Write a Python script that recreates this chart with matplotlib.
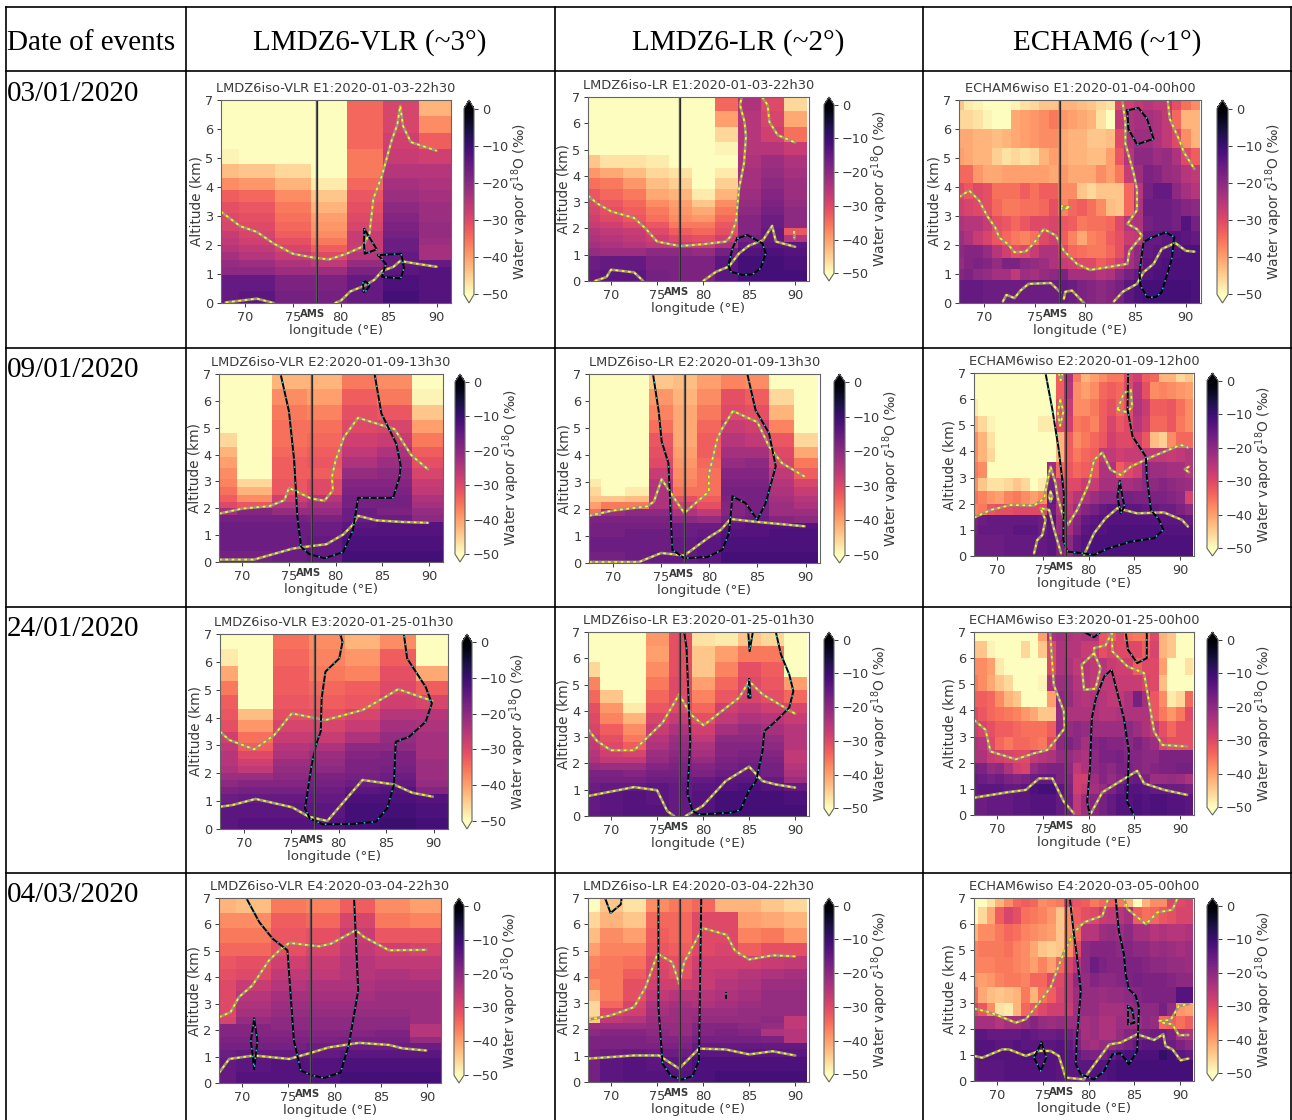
import numpy as np
import matplotlib
matplotlib.use("Agg")
import matplotlib.pyplot as plt

W, H = 1292, 1120

# longitudes of the cell centres for each model
LON_VLR = [67.5, 71.25, 75, 78.75, 82.5, 86.25, 90]
LON_LR = [67.5, 70, 72.5, 75, 77.5, 80, 82.5, 85, 87.5, 90]
LON_ECHAM = [67.5, 68.44, 69.38, 70.31, 71.25, 72.19, 73.13, 74.06, 75, 75.94, 76.88, 77.81, 78.75,
             79.69, 80.63, 81.56, 82.5, 83.44, 84.38, 85.31, 86.25, 87.19, 88.13, 89.06, 90, 90.94]
# altitude limits of the rows, top to bottom
ALT_LMDZ = [7.2, 6.45, 5.85, 5.3, 4.8, 4.3, 3.9, 3.5, 3.1, 2.8, 2.5, 2.25, 2.0, 1.75, 1.5, 1.25, 0.95, 0.4, 0]
ALT_ECHAM = [7.2, 6.65, 6.0, 5.35, 4.75, 4.15, 3.6, 3.0, 2.5, 2.0, 1.55, 1.17, 0.8, 0]

DATES = ["03/01/2020", "09/01/2020", "24/01/2020", "04/03/2020"]
HEADERS = ["Date of events", "LMDZ6-VLR (~3°)", "LMDZ6-LR (~2°)", "ECHAM6 (~1°)"]
TITLES = [
    ["LMDZ6iso-VLR E1:2020-01-03-22h30", "LMDZ6iso-LR E1:2020-01-03-22h30", "ECHAM6wiso E1:2020-01-04-00h00"],
    ["LMDZ6iso-VLR E2:2020-01-09-13h30", "LMDZ6iso-LR E2:2020-01-09-13h30", "ECHAM6wiso E2:2020-01-09-12h00"],
    ["LMDZ6iso-VLR E3:2020-01-25-01h30", "LMDZ6iso-LR E3:2020-01-25-01h30", "ECHAM6wiso E3:2020-01-25-00h00"],
    ["LMDZ6iso-VLR E4:2020-03-04-22h30", "LMDZ6iso-LR E4:2020-03-04-22h30", "ECHAM6wiso E4:2020-03-05-00h00"],
]

# delta18O values, rows from top to bottom
VLR_E1 = [
    [-52, -52, -52, -52, -34, -29, -42],
    [-52, -52, -52, -52, -34, -29, -38],
    [-52, -52, -52, -52, -34, -28, -33],
    [-49, -52, -52, -52, -36, -27, -28],
    [-43, -44, -46, -52, -36, -25, -25],
    [-38, -39, -42, -48, -34, -23, -24],
    [-33, -34, -38, -44, -32, -22, -23],
    [-31, -32, -36, -42, -31, -20, -22],
    [-30, -31, -35, -40, -30, -19, -22],
    [-29, -30, -34, -39, -29, -18, -21],
    [-27, -29, -33, -38, -27, -17, -21],
    [-26, -28, -31, -36, -27, -16, -22],
    [-25, -26, -29, -33, -27, -16, -23],
    [-23, -25, -27, -30, -25, -15, -23],
    [-21, -22, -24, -26, -21, -15, -15],
    [-20, -20, -22, -22, -18, -14, -13],
    [-15, -15, -18, -18, -15, -12, -13],
    [-15, -14, -17, -17, -15, -11, -13],
]
VLR_E2 = [
    [-52, -52, -42, -42, -36, -38, -52],
    [-52, -52, -38, -40, -33, -36, -49],
    [-52, -52, -36, -37, -31, -32, -44],
    [-50, -52, -35, -35, -30, -29, -40],
    [-46, -52, -35, -34, -28, -27, -36],
    [-42, -52, -34, -33, -26, -24, -33],
    [-40, -52, -33, -32, -24, -22, -31],
    [-38, -50, -33, -33, -21, -20, -29],
    [-37, -46, -32, -30, -19, -19, -27],
    [-35, -42, -32, -30, -18, -18, -26],
    [-33, -38, -28, -25, -17, -17, -24],
    [-30, -32, -25, -23, -17, -17, -23],
    [-23, -19, -21, -21, -16, -18, -21],
    [-17, -17, -17, -18, -16, -16, -20],
    [-16, -16, -16, -16, -14, -13, -13],
    [-16, -16, -16, -16, -13, -13, -13],
    [-16, -16, -16, -15, -12, -12, -12],
    [-17, -17, -16, -15, -11, -11, -11],
]
VLR_E3 = [
    [-51, -52, -35, -38, -42, -38, -51],
    [-48, -52, -34, -37, -39, -33, -51],
    [-41, -52, -33, -36, -37, -31, -41],
    [-36, -52, -33, -34, -33, -30, -33],
    [-33, -50, -32, -33, -32, -28, -29],
    [-32, -43, -31, -31, -29, -25, -25],
    [-31, -39, -29, -29, -27, -23, -24],
    [-28, -35, -27, -27, -24, -21, -23],
    [-26, -33, -25, -24, -20, -20, -23],
    [-25, -30, -24, -22, -19, -18, -23],
    [-25, -28, -22, -21, -18, -18, -22],
    [-24, -26, -21, -20, -18, -17, -22],
    [-22, -22, -20, -18, -17, -16, -22],
    [-20, -19, -19, -17, -16, -15, -21],
    [-18, -17, -17, -16, -14, -13, -19],
    [-16, -15, -15, -15, -12, -12, -13],
    [-14, -14, -14, -14, -11, -11, -12],
    [-14, -13, -13, -13, -11, -10, -11],
]
VLR_E4 = [
    [-42, -43, -36, -37, -33, -38, -40],
    [-38, -38, -33, -34, -29, -36, -37],
    [-36, -36, -32, -31, -27, -32, -32],
    [-34, -34, -31, -29, -26, -28, -29],
    [-32, -31, -28, -27, -25, -26, -26],
    [-31, -30, -26, -26, -25, -24, -25],
    [-30, -27, -25, -24, -24, -23, -23],
    [-30, -25, -23, -23, -23, -22, -22],
    [-30, -24, -22, -22, -22, -22, -22],
    [-30, -23, -21, -21, -21, -21, -22],
    [-29, -21, -20, -20, -20, -20, -22],
    [-19, -19, -20, -20, -20, -20, -25],
    [-19, -19, -19, -19, -19, -18, -25],
    [-18, -18, -18, -18, -17, -17, -21],
    [-17, -17, -17, -16, -16, -16, -16],
    [-16, -15, -15, -15, -14, -14, -14],
    [-15, -14, -13, -13, -12, -12, -12],
    [-15, -13, -13, -13, -11, -11, -11],
]
LR_E1 = [
    [-52, -52, -52, -52, -52, -52, -34, -24, -30, -46],
    [-52, -52, -52, -52, -52, -52, -40, -25, -29, -41],
    [-52, -52, -52, -52, -52, -52, -46, -25, -28, -35],
    [-52, -52, -52, -52, -52, -52, -49, -25, -25, -27],
    [-44, -47, -47, -48, -52, -52, -50, -24, -22, -24],
    [-39, -41, -43, -46, -47, -51, -48, -23, -21, -23],
    [-35, -36, -39, -43, -45, -50, -45, -23, -20, -22],
    [-32, -34, -36, -41, -42, -48, -42, -22, -19, -22],
    [-30, -32, -34, -38, -40, -44, -38, -21, -18, -21],
    [-29, -31, -33, -36, -39, -41, -36, -20, -17, -20],
    [-28, -30, -32, -35, -38, -39, -34, -19, -16, -20],
    [-27, -28, -30, -32, -36, -36, -32, -19, -16, -20],
    [-25, -26, -27, -30, -33, -34, -31, -19, -15, -32],
    [-24, -25, -26, -28, -30, -31, -28, -17, -15, -25],
    [-23, -24, -25, -26, -27, -28, -24, -15, -14, -14],
    [-21, -22, -22, -20, -20, -21, -17, -13, -12, -13],
    [-16, -15, -15, -18, -18, -18, -14, -11, -11, -12],
    [-15, -14, -14, -17, -18, -18, -14, -11, -11, -11],
]
LR_E2 = [
    [-52, -52, -52, -44, -43, -40, -37, -38, -52, -52],
    [-52, -52, -52, -39, -42, -38, -31, -33, -46, -52],
    [-52, -52, -52, -37, -41, -36, -30, -31, -42, -52],
    [-52, -52, -52, -35, -41, -34, -27, -28, -37, -52],
    [-52, -52, -52, -32, -41, -33, -25, -26, -32, -46],
    [-52, -52, -52, -31, -40, -33, -23, -23, -30, -41],
    [-52, -52, -52, -30, -39, -34, -21, -20, -29, -36],
    [-50, -52, -52, -27, -38, -35, -19, -19, -26, -33],
    [-48, -52, -52, -25, -37, -35, -18, -18, -25, -29],
    [-46, -50, -48, -24, -35, -35, -17, -17, -24, -27],
    [-44, -44, -43, -24, -31, -33, -18, -17, -23, -25],
    [-40, -36, -36, -24, -28, -31, -19, -17, -22, -24],
    [-35, -22, -20, -20, -24, -26, -19, -17, -22, -22],
    [-18, -18, -18, -18, -20, -21, -17, -16, -19, -20],
    [-17, -17, -17, -17, -16, -16, -14, -13, -13, -13],
    [-17, -17, -16, -16, -16, -15, -13, -13, -12, -12],
    [-16, -16, -16, -16, -15, -14, -12, -12, -12, -12],
    [-17, -17, -16, -15, -15, -14, -11, -11, -11, -11],
]
LR_E3 = [
    [-52, -52, -52, -39, -31, -47, -48, -44, -46, -52],
    [-52, -52, -52, -40, -31, -44, -40, -36, -36, -52],
    [-46, -52, -52, -38, -31, -44, -37, -31, -33, -50],
    [-37, -50, -52, -36, -30, -40, -34, -30, -32, -40],
    [-34, -44, -52, -34, -30, -37, -32, -29, -31, -34],
    [-31, -39, -48, -32, -30, -34, -28, -26, -28, -29],
    [-30, -37, -42, -29, -27, -31, -26, -24, -25, -27],
    [-29, -33, -38, -27, -24, -28, -23, -21, -23, -25],
    [-27, -31, -36, -25, -22, -26, -20, -20, -21, -25],
    [-26, -30, -33, -24, -21, -24, -19, -19, -20, -25],
    [-25, -28, -29, -22, -20, -23, -19, -18, -19, -26],
    [-24, -26, -26, -21, -19, -21, -18, -17, -18, -26],
    [-21, -22, -22, -19, -18, -19, -17, -16, -17, -25],
    [-18, -18, -19, -17, -17, -18, -16, -15, -17, -24],
    [-17, -17, -17, -16, -16, -15, -14, -14, -15, -22],
    [-16, -15, -15, -14, -15, -14, -13, -12, -13, -15],
    [-15, -14, -13, -14, -15, -13, -11, -11, -11, -12],
    [-15, -14, -13, -13, -15, -13, -11, -11, -11, -11],
]
LR_E4 = [
    [-51, -44, -47, -38, -36, -34, -42, -42, -44, -46],
    [-46, -42, -44, -34, -34, -30, -30, -40, -41, -42],
    [-43, -38, -40, -33, -34, -30, -30, -37, -36, -39],
    [-40, -37, -37, -32, -33, -30, -29, -33, -31, -31],
    [-37, -36, -35, -30, -31, -28, -28, -28, -27, -26],
    [-36, -36, -33, -29, -31, -27, -26, -25, -24, -23],
    [-38, -36, -31, -28, -28, -27, -25, -24, -22, -22],
    [-42, -36, -31, -26, -25, -25, -24, -23, -21, -21],
    [-46, -34, -29, -24, -23, -24, -23, -22, -21, -21],
    [-46, -30, -28, -23, -22, -22, -22, -21, -21, -21],
    [-44, -26, -25, -22, -22, -21, -21, -21, -20, -26],
    [-22, -22, -22, -21, -21, -19, -19, -20, -21, -26],
    [-20, -19, -19, -20, -21, -19, -18, -19, -24, -25],
    [-18, -18, -18, -19, -19, -17, -17, -17, -18, -25],
    [-18, -18, -18, -18, -18, -15, -15, -15, -15, -15],
    [-17, -16, -15, -16, -16, -14, -14, -14, -14, -14],
    [-17, -14, -13, -14, -14, -12, -12, -12, -12, -12],
    [-17, -14, -13, -13, -13, -12, -11, -11, -11, -11],
]
ECHAM_E1 = [
    [-44, -48, -49, -50, -51, -50, -49, -47, -46, -44, -44, -42, -42, -43, -44, -46, -47, -30, -28, -26, -25, -26, -26, -31, -35, -38],
    [-46, -46, -47, -49, -50, -50, -41, -40, -39, -38, -36, -39, -40, -41, -42, -47, -50, -26, -24, -23, -23, -24, -26, -34, -42, -42],
    [-41, -41, -42, -42, -43, -42, -41, -40, -39, -38, -38, -41, -42, -42, -44, -44, -43, -30, -24, -22, -22, -24, -26, -30, -38, -42],
    [-40, -41, -42, -42, -45, -47, -46, -47, -46, -42, -40, -41, -42, -42, -43, -43, -40, -32, -25, -20, -20, -22, -21, -24, -30, -33],
    [-34, -34, -39, -41, -41, -40, -40, -40, -40, -40, -41, -39, -41, -41, -41, -38, -40, -36, -27, -22, -18, -19, -21, -22, -25, -26],
    [-30, -32, -30, -31, -35, -35, -35, -33, -35, -33, -33, -38, -38, -44, -46, -44, -44, -44, -34, -25, -17, -15, -15, -20, -23, -25],
    [-28, -29, -30, -31, -34, -36, -36, -35, -35, -34, -31, -37, -34, -33, -35, -38, -43, -44, -34, -24, -16, -16, -16, -17, -19, -20],
    [-24, -25, -25, -27, -31, -32, -34, -32, -30, -30, -29, -32, -33, -36, -35, -35, -34, -30, -25, -24, -17, -16, -16, -17, -13, -17],
    [-22, -24, -27, -29, -32, -34, -36, -37, -35, -30, -28, -33, -37, -41, -37, -36, -33, -31, -27, -26, -15, -15, -14, -13, -14, -15],
    [-20, -19, -19, -21, -25, -28, -31, -30, -27, -24, -24, -30, -34, -35, -36, -36, -34, -31, -24, -20, -15, -14, -13, -13, -12, -12],
    [-21, -19, -18, -19, -21, -18, -18, -20, -21, -22, -24, -27, -28, -30, -30, -33, -31, -28, -23, -20, -14, -13, -12, -12, -12, -12],
    [-19, -18, -20, -21, -23, -23, -26, -22, -23, -21, -20, -18, -23, -23, -23, -25, -24, -20, -17, -15, -13, -12, -12, -12, -12, -12],
    [-15, -15, -15, -16, -16, -16, -16, -16, -16, -16, -16, -15, -16, -18, -19, -20, -19, -17, -14, -12, -11, -11, -11, -11, -11, -12],
]
ECHAM_E2 = [
    [-52, -52, -52, -52, -52, -52, -52, -52, -52, -52, -33, -24, -36, -42, -40, -38, -36, -36, -30, -28, -33, -34, -42, -42, -46, -44],
    [-52, -52, -52, -52, -52, -52, -52, -52, -52, -52, -33, -25, -38, -40, -38, -34, -33, -34, -30, -25, -31, -38, -37, -38, -39, -40],
    [-48, -50, -52, -52, -52, -52, -52, -52, -50, -52, -31, -27, -38, -38, -36, -33, -31, -34, -31, -24, -27, -33, -33, -32, -35, -38],
    [-42, -46, -49, -52, -52, -52, -52, -52, -48, -48, -30, -28, -36, -35, -37, -33, -29, -32, -30, -25, -28, -34, -34, -32, -36, -38],
    [-38, -42, -47, -52, -52, -52, -52, -52, -52, -50, -42, -33, -38, -36, -34, -32, -28, -30, -30, -28, -32, -43, -45, -38, -34, -34],
    [-38, -42, -46, -52, -52, -52, -52, -52, -52, -50, -42, -33, -36, -34, -33, -26, -26, -28, -27, -27, -26, -26, -26, -27, -26, -25],
    [-36, -38, -52, -52, -52, -52, -52, -52, -52, -22, -34, -32, -34, -33, -32, -24, -24, -33, -30, -28, -20, -22, -22, -23, -23, -25],
    [-38, -44, -47, -47, -46, -44, -46, -50, -48, -17, -25, -30, -30, -27, -27, -23, -23, -23, -23, -22, -20, -20, -19, -20, -21, -22],
    [-35, -37, -39, -40, -37, -36, -38, -40, -38, -15, -24, -28, -25, -24, -22, -20, -20, -19, -17, -18, -18, -18, -18, -19, -20, -29],
    [-37, -36, -32, -31, -31, -30, -30, -30, -30, -16, -24, -26, -22, -19, -17, -15, -14, -14, -14, -14, -15, -15, -16, -16, -18, -20],
    [-18, -16, -15, -15, -15, -15, -15, -15, -16, -13, -22, -24, -19, -15, -14, -13, -13, -13, -13, -13, -13, -13, -14, -14, -14, -15],
    [-17, -15, -15, -15, -15, -14, -14, -14, -16, -14, -21, -23, -18, -14, -13, -13, -12, -12, -12, -12, -12, -12, -13, -13, -13, -13],
    [-16, -16, -16, -16, -15, -15, -15, -15, -15, -14, -18, -20, -15, -13, -12, -12, -12, -12, -12, -12, -12, -12, -12, -12, -12, -12],
]
ECHAM_E3 = [
    [-50, -50, -52, -52, -52, -52, -50, -50, -40, -24, -23, -24, -25, -24, -24, -32, -33, -30, -35, -36, -36, -30, -42, -44, -51, -51],
    [-44, -44, -49, -50, -52, -52, -46, -52, -44, -30, -24, -25, -25, -27, -27, -31, -29, -30, -30, -30, -33, -29, -42, -44, -50, -51],
    [-38, -38, -40, -48, -52, -52, -52, -52, -50, -30, -24, -24, -26, -25, -26, -25, -27, -28, -28, -33, -30, -30, -40, -50, -50, -47],
    [-36, -38, -41, -44, -46, -50, -52, -52, -49, -24, -22, -22, -25, -25, -26, -26, -26, -27, -27, -27, -29, -30, -43, -50, -52, -52],
    [-33, -33, -34, -38, -42, -44, -52, -52, -52, -40, -20, -21, -24, -25, -24, -25, -26, -26, -24, -17, -23, -32, -38, -48, -46, -34],
    [-30, -32, -34, -35, -36, -37, -39, -41, -44, -44, -21, -24, -24, -24, -24, -25, -25, -24, -24, -24, -24, -32, -36, -39, -36, -30],
    [-28, -29, -31, -33, -33, -34, -35, -35, -35, -33, -20, -21, -20, -21, -22, -22, -22, -22, -20, -22, -24, -26, -31, -34, -31, -31],
    [-24, -25, -30, -34, -36, -34, -34, -35, -36, -30, -20, -18, -20, -23, -19, -18, -19, -19, -20, -18, -20, -22, -29, -31, -31, -31],
    [-24, -24, -27, -28, -29, -30, -30, -26, -25, -24, -21, -21, -23, -24, -20, -18, -18, -17, -19, -19, -20, -20, -18, -18, -18, -18],
    [-17, -18, -21, -20, -24, -28, -29, -21, -19, -18, -18, -20, -26, -24, -20, -19, -20, -18, -18, -19, -20, -19, -18, -18, -17, -17],
    [-15, -16, -17, -16, -18, -19, -18, -16, -15, -15, -18, -19, -28, -28, -22, -19, -21, -19, -16, -15, -18, -22, -22, -21, -22, -24],
    [-15, -14, -14, -14, -15, -15, -14, -12, -11, -11, -14, -18, -28, -26, -23, -21, -18, -15, -13, -13, -14, -15, -15, -16, -16, -17],
    [-16, -16, -15, -15, -15, -14, -14, -13, -13, -13, -15, -17, -26, -22, -19, -17, -15, -13, -13, -12, -13, -12, -12, -13, -13, -14],
]
ECHAM_E4 = [
    [-52, -50, -47, -42, -38, -34, -33, -34, -38, -37, -36, -30, -32, -33, -36, -34, -33, -36, -42, -50, -42, -38, -38, -30, -30, -29],
    [-50, -46, -41, -33, -29, -31, -35, -36, -37, -39, -44, -38, -33, -31, -30, -27, -26, -25, -23, -33, -35, -34, -32, -31, -29, -29],
    [-42, -38, -38, -36, -34, -35, -37, -38, -39, -40, -44, -38, -34, -25, -25, -22, -21, -22, -20, -23, -23, -25, -24, -25, -25, -24],
    [-37, -36, -36, -36, -35, -37, -38, -41, -44, -45, -44, -38, -30, -20, -19, -19, -19, -20, -19, -20, -20, -22, -21, -22, -23, -22],
    [-37, -37, -37, -36, -36, -37, -38, -40, -37, -40, -34, -29, -25, -20, -16, -18, -19, -19, -18, -18, -19, -20, -20, -21, -21, -22],
    [-39, -40, -39, -37, -36, -36, -37, -34, -34, -30, -30, -26, -20, -21, -19, -20, -20, -19, -18, -17, -18, -18, -18, -19, -20, -20],
    [-34, -41, -43, -44, -43, -42, -36, -42, -35, -33, -29, -26, -22, -21, -21, -22, -21, -21, -20, -19, -18, -18, -18, -18, -13, -13],
    [-29, -32, -38, -47, -48, -42, -34, -32, -30, -28, -28, -27, -22, -21, -21, -23, -23, -23, -22, -20, -20, -20, -17, -21, -39, -40],
    [-23, -23, -23, -25, -23, -23, -21, -19, -21, -22, -21, -22, -22, -23, -22, -24, -24, -22, -22, -22, -20, -21, -34, -33, -35, -33],
    [-14, -14, -15, -15, -15, -15, -14, -15, -16, -16, -15, -17, -19, -23, -22, -24, -24, -21, -19, -18, -17, -16, -16, -18, -23, -24],
    [-13, -13, -13, -14, -14, -13, -14, -14, -14, -14, -13, -15, -18, -22, -23, -21, -21, -19, -17, -15, -14, -14, -14, -16, -18, -20],
    [-13, -13, -13, -13, -13, -13, -12, -12, -12, -13, -13, -14, -15, -17, -18, -17, -15, -13, -12, -12, -12, -12, -9, -11, -14, -15],
    [-15, -14, -14, -14, -13, -13, -13, -13, -13, -13, -14, -14, -14, -14, -13, -13, -12, -11, -11, -11, -11, -11, -11, -11, -11, -11],
]

# contour traces (lon, alt): Y = yellow on grey, K = black with cyan
VLR_E1_Y = [
    [(68, 0.02), (70, 0.1), (71.25, 0.15), (73, 0)],
    [(67.5, 3.15), (68.5, 2.9), (69.5, 2.65), (71.25, 2.45), (73, 2.05), (75, 1.7), (76.9, 1.58), (78.75, 1.5), (80.6, 1.7),
     (82.3, 1.95), (83, 2.4), (83.4, 3.6), (84.3, 4.4), (85.3, 5.6), (85.9, 6.15), (86.2, 6.8), (86.5, 6.1), (87.3, 5.55), (90, 5.25)],
    [(79.4, 0), (80, 0.08), (81, 0.4), (82.5, 0.6), (83.5, 0.8), (84.3, 1.1), (85.5, 1.25), (86.2, 1.45), (88, 1.35), (90, 1.25)],
]
VLR_E1_K = [
    [(82.45, 2.55), (83.75, 1.85), (82.5, 1.7), (82.4, 2.1), (82.45, 2.55)],
    [(83.9, 1.65), (86.3, 1.7), (86.6, 1.2), (86.25, 0.85), (84.3, 0.9), (84.7, 1.35), (83.9, 1.65)],
    [(82.4, 0.4), (82.3, 0.7), (82.6, 0.75), (83, 0.6), (82.6, 0.4), (82.4, 0.4)],
]
LR_E1_Y = [
    [(68.25, 0), (69.5, 0.15), (70, 0.43), (72.5, 0.33), (73.5, 0)],
    [(67.5, 3.25), (68.5, 2.95), (70, 2.65), (72.5, 2.4), (73.75, 2), (75, 1.5), (77.5, 1.33), (80, 1.4), (82.45, 1.5), (83, 1.7),
     (83.55, 2.25), (83.9, 3.5), (84.45, 4.5), (84.65, 5.5), (84.5, 6.05), (84, 6.7), (84.2, 7)],
    [(86.4, 7), (87, 6.7), (87.2, 6.05), (88.1, 5.55), (90, 5.27)],
    [(80, 0), (81.4, 0.35), (82.8, 0.55), (83.9, 1.05), (85, 1.35), (86.5, 1.55), (87.5, 2.1), (87.9, 1.5), (90, 1.3)],
    [(89.9, 1.9), (89.9, 1.65)],
]
LR_E1_K = [
    [(83.7, 1.62), (84.8, 1.75), (86.45, 1.43), (86.8, 1.05), (86.25, 0.48), (85.35, 0.25), (84.3, 0.23), (83, 0.35), (82.75, 0.6),
     (83.2, 1.25), (83.7, 1.62)],
]
ECHAM_E1_Y = [
    [(67.5, 3.65), (68.5, 3.88), (69.5, 3.53), (70.3, 3), (71.1, 2.6), (71.5, 2.25), (72.3, 2.05), (73, 1.75), (74.1, 1.77), (74.9, 2.05),
     (75.9, 2.55), (77.1, 2.33), (77.9, 1.8), (79.2, 1.35), (80.5, 1.14), (82.5, 1.25), (84.2, 1.35), (84.4, 1.8), (85.65, 2.32),
     (85.15, 2.55), (84.2, 2.73), (85.15, 3.2), (85.15, 3.93), (84.8, 4.5), (84, 5.5), (84, 6.23), (83.7, 7)],
    [(88.2, 7), (88.4, 6.35), (89.3, 5.66), (89.8, 5.2), (90.85, 4.62)],
    [(77.55, 3.35), (78.55, 3.3), (77.7, 3.22), (77.55, 3.35)],
    [(71.85, 0.05), (72.2, 0.28), (73, 0.17), (73.6, 0.43), (74.4, 0.66), (76.6, 0.69), (77.55, 0.37)],
    [(77.9, 0.14), (78.05, 0.39), (78.7, 0.43), (79.9, 0)],
    [(82.85, 0.05), (83.75, 0.39), (85.15, 0.66), (85.8, 1.06), (86.8, 1.35), (87.6, 1.86), (88.95, 2.07), (90, 1.8), (90.85, 1.77)],
]
ECHAM_E1_K = [
    [(84.2, 6.64), (85.3, 6.73), (86.15, 6.35), (86.8, 5.66), (85.15, 5.47), (84.3, 6), (84.2, 6.64)],
    [(86.5, 2.24), (88, 2.44), (88.85, 2.27), (88.6, 1.52), (87.6, 0.37), (87, 0.2), (86.15, 0.2), (85.5, 0.6), (85.4, 1.06), (85.8, 2.1), (86.5, 2.24)],
]
VLR_E2_Y = [
    [(67.5, 1.8), (70, 1.99), (72.9, 2.08), (74.5, 2.3), (75, 2.76), (77.4, 2.36), (78.8, 2.28), (79.7, 2.67), (79.6, 3.17), (80, 3.8),
     (80.9, 4.66), (82.4, 5.37), (86.3, 4.95), (88.1, 3.98), (89.9, 3.45)],
    [(67.5, 0.09), (71.25, 0.09), (75.4, 0.5), (77.5, 0.6), (79, 0.66), (80.8, 1.02), (81.8, 1.37), (82.4, 1.72), (84.35, 1.55), (87.2, 1.49), (89.9, 1.46)],
]
VLR_E2_K = [
    [(74.1, 7), (75, 5.6), (75.55, 3.8), (75.9, 1.68), (76.3, 0.56), (77.2, 0.29), (78.8, 0.14), (80.8, 0.37), (81.85, 1.18), (82.4, 2.39),
     (86.15, 2.39), (86.85, 3.17), (86.96, 3.6), (86.5, 4.4), (84.9, 5.53), (84.17, 7)],
]
LR_E2_Y = [
    [(67.5, 1.75), (69.9, 1.94), (73.55, 2.1), (74.25, 2.28), (75.05, 3.1), (77.4, 1.85), (79.95, 2.65), (79.95, 3.27), (80.8, 4.56),
     (81.25, 4.93), (82.45, 5.63), (85, 5.22), (86.2, 4.32), (87.55, 3.7), (89.9, 3.2)],
    [(67.5, 0.04), (72.7, 0.04), (75, 0.37), (77.4, 0.28), (79.95, 0.95), (81.2, 1.23), (82.2, 1.63), (85, 1.52), (89.9, 1.36)],
]
LR_E2_K = [
    [(74.15, 7), (74.75, 5.6), (75.05, 4.5), (75.75, 3.7), (76, 1.73), (76.15, 0.49), (77.4, 0.18), (79.8, 0.22), (81.35, 0.49), (82.05, 1.11),
     (82.4, 2.47), (83.75, 2.22), (85, 1.6), (85.85, 2.22), (86.9, 3.58), (86.2, 4.81), (84.8, 5.67), (83.95, 7)],
]
ECHAM_E2_Y = [
    [(67.5, 1.47), (69.3, 1.76), (71.5, 1.95), (74.05, 1.93), (75.15, 2.2), (75.85, 3.42), (76.4, 2.78), (76.6, 2.27), (77.3, 1.44), (77.75, 1.19),
     (78.75, 1.76), (80.05, 2.78), (80.6, 3.68), (81.5, 3.96), (82.4, 3.3), (83.5, 3.1), (84.6, 3.42), (86.8, 3.78), (90.05, 4.25), (90.85, 4.15)],
    [(74.05, 0.1), (74.4, 0.61), (74.95, 0.8), (75.3, 1.38), (74.75, 1.83), (75.7, 1.76), (76.25, 1), (77, 0.1)],
    [(79.5, 0.04), (80.6, 0.87), (81.85, 1.44), (83.15, 1.83), (85.3, 1.63), (88.2, 1.67), (90.2, 1.38), (90.85, 1.12)],
    [(83.15, 5.6), (83.85, 6.23), (84.6, 6.36), (84.75, 5.72), (84.2, 5.5), (83.15, 5.6)],
    [(76.9, 5.98), (77.25, 5.53), (76.9, 4.98), (76.65, 5.46), (76.9, 5.98)],
    [(76.75, 7), (76.95, 6.72), (77.15, 7)],
    [(90.95, 3.42), (90.5, 3.32), (90.95, 3.2)],
    [(75.85, 2.46), (76.05, 2.27), (75.85, 2.08), (75.7, 2.27), (75.85, 2.46)],
]
ECHAM_E2_K = [
    [(75.3, 7), (76.05, 5.6), (76.75, 4.06), (77.3, 2.4), (77.25, 0.6), (77.7, 0.17), (79.5, 0.1), (80.6, 0.04), (82.2, 0.3), (84.6, 0.55),
     (87.15, 0.68), (88.15, 1), (87.7, 1.38), (86.8, 1.76), (86.35, 3.04), (86.25, 3.8), (84.8, 4.57), (84.25, 5.6), (84.3, 7)],
    [(83.4, 2.85), (83.9, 1.89), (83.5, 1.63), (83.15, 2.27), (83.4, 2.85)],
]
VLR_E3_Y = [
    [(67.5, 3.5), (68.45, 3.2), (71.1, 2.86), (73.2, 3.37), (75.05, 4.15), (78.6, 3.91), (82.5, 4.27), (84.95, 4.75), (86.25, 5.02), (89.85, 4.6)],
    [(67.5, 0.8), (68.8, 0.86), (71.25, 1.08), (75.1, 0.78), (76.85, 0.44), (78.8, 0.29), (82.5, 1.76), (85.8, 1.6), (87.75, 1.3), (89.9, 1.16)],
]
VLR_E3_K = [
    [(80.15, 7), (80.4, 6.72), (80.05, 6.12), (78.6, 5.65), (78.2, 4.69), (78.1, 3.5), (77.6, 3.01), (77.15, 2.3), (76.45, 0.74), (76.95, 0.38),
     (78.3, 0.17), (81.4, 0.18), (83.9, 0.26), (85.1, 0.74), (85.8, 1.58), (86, 3.13), (87.4, 3.31), (89.15, 3.85), (89.8, 4.51), (89.15, 5.1),
     (88.1, 5.65), (87.2, 6.12), (86.85, 7)],
]
LR_E3_Y = [
    [(67.5, 3.3), (68.5, 2.85), (70, 2.5), (72.5, 2.5), (75.6, 3.55), (77.4, 4.63), (78.65, 3.87), (80.05, 3.45), (83.9, 4.5), (85, 5.13),
     (86.45, 4.63), (90, 3.89)],
    [(67.5, 0.76), (72.5, 1.1), (75, 0.98), (76.1, 0.19), (76.85, 0)],
    [(78.1, 0), (79.95, 0.38), (82.45, 1.33), (85, 1.88), (86.45, 1.33), (87.9, 1.2), (90, 1.08)],
]
LR_E3_K = [
    [(77.95, 7), (78.2, 6.4), (78.6, 2.85), (78.3, 0.82), (78.85, 0.19), (79.55, 0.06), (83.2, 0.13), (84.1, 0.25), (84.95, 0.95), (85.75, 1.33),
     (86.45, 2.47), (86.65, 3.23), (87.9, 3.61), (89.35, 4.12), (89.8, 4.75), (89.35, 5.39), (88.45, 6.15), (87.9, 7)],
    [(84.9, 7), (85.05, 6.27), (85.4, 7)],
    [(85, 5.2), (85.15, 4.5), (84.9, 4.5), (85, 5.2)],
]
ECHAM_E3_Y = [
    [(67.5, 3.64), (68.75, 3.26), (69.3, 2.43), (70.8, 2.27), (72.05, 2.13), (74.05, 2.36), (75.5, 2.49), (76.4, 2.87), (77.4, 3.32), (77.3, 3.96),
     (76.2, 4.98), (75.8, 7)],
    [(67.5, 0.66), (71.15, 0.87), (73.15, 0.96), (74.6, 1.4), (76.05, 1.4), (77.3, 0.51), (78.4, 0.06)],
    [(80.25, 0.06), (81.5, 0.87), (85.3, 1.69), (86.05, 1.21), (88.25, 0.96), (90.75, 0.77)],
    [(80.6, 6.19), (81.3, 5.62), (80.75, 4.83), (79.5, 4.79), (79.25, 5.75), (80.6, 6.19), (80.6, 6.39), (81.85, 6.49), (82.55, 7)],
    [(82.55, 7), (82.6, 6.26), (84.25, 5.68), (86.05, 5.43), (86.4, 4.73), (87.15, 3.19), (88.05, 2.68), (90.75, 2.62)],
]
ECHAM_E3_K = [
    [(84.95, 0), (84.2, 0.51), (84.4, 2.43), (83.85, 3.7), (82.5, 5.56), (81.7, 5.3), (80.8, 4.47), (80.35, 3.7), (80.15, 1.79), (79.85, 0.51), (80.1, 0.06)],
    [(79.5, 7), (80.6, 6.8), (81.3, 7)],
    [(84.05, 7), (84.3, 6.32), (85.3, 5.81), (86.35, 6), (86.35, 7)],
]
VLR_E4_Y = [
    [(67.5, 2.49), (68.75, 2.68), (69.65, 3.25), (71.1, 3.69), (72.9, 4.64), (74.2, 5.08), (75.1, 5.3), (78.35, 5.17), (79.6, 5.27), (82.3, 5.78),
     (83.2, 5.52), (85.9, 5.02), (89.9, 5.04)],
    [(67.5, 0.38), (68.6, 0.91), (71.3, 1.04), (75.1, 0.91), (77.6, 1.16), (79.4, 1.35), (82.65, 1.52), (85.9, 1.44), (87.35, 1.31), (89.9, 1.23)],
]
VLR_E4_K = [
    [(70.45, 7), (71.85, 6.09), (73.3, 5.46), (74.9, 5.02), (75.6, 1.6), (76.35, 0.47), (77.45, 0.3), (78.85, 0.19), (80.65, 0.4), (81.55, 1.48),
     (82.55, 3.5), (82.1, 7)],
    [(71.3, 2.43), (71.65, 1.6), (71.3, 0.53), (70.95, 1.6), (71.3, 2.43)],
]
LR_E4_Y = [
    [(67.5, 2.37), (69.95, 2.53), (72.5, 2.85), (73.75, 3.61), (75.05, 4.88), (76.65, 4.56), (77.4, 3.74), (77.95, 4.56), (79.95, 5.86), (82.55, 5.6),
     (83.45, 5), (85, 4.66), (87.55, 4.82), (90, 4.78)],
    [(67.5, 0.89), (72.5, 1.01), (75.2, 1.01), (77.4, 0.51), (79.55, 1.27), (82.45, 1.24), (85, 1.05), (87.55, 1.17), (90, 1.01)],
]
LR_E4_K = [
    [(75.15, 7), (75.15, 2.85), (75.6, 0.7), (76.5, 0.23), (77.7, 0.09), (78.85, 0.23), (79.55, 0.82), (79.8, 7)],
    [(69.35, 7), (69.95, 6.43), (71.05, 6.75), (71.15, 7)],
    [(82.45, 3.4), (82.45, 3.2)],
]
ECHAM_E4_Y = [
    [(67.5, 2.77), (69.3, 2.62), (72.05, 2.23), (73.15, 2.36), (74.6, 3), (75.85, 3.58), (77.3, 4.92), (78.4, 5.68), (79.5, 6.07), (81.5, 6.32),
     (82.05, 6.9), (82.25, 7)],
    [(83.85, 7), (84.25, 6.58), (86.25, 6), (87.5, 6.45), (89.15, 6.55), (89.7, 7)],
    [(67.5, 0.96), (68.4, 0.89), (70.6, 1.21), (71.3, 1.21), (73.15, 0.96), (74.6, 1.15), (75.85, 1.15), (76.75, 0.96), (77.5, 0.13), (79.5, 0.06),
     (79.85, 0.26), (82.25, 1.4), (83.5, 1.47), (85.3, 1.79), (87.15, 1.57), (88.15, 1.79), (88.4, 1.34), (89.15, 1.21), (90.05, 0.79), (90.9, 0.86)],
    [(87.7, 2.3), (88.95, 2.34), (89.85, 2.87), (90.9, 2.94)],
    [(88.05, 2.23), (89.15, 2.17), (89.85, 1.75), (90.9, 1.76)],
]
ECHAM_E4_K = [
    [(77.95, 7), (78.4, 5.62), (78.7, 4.85), (79.15, 3.45), (78.7, 1.53), (78.6, 0.64), (79.15, 0.26), (80.6, 0.06), (81.7, 0.38), (82.6, 1.02),
     (83.5, 1.06), (84.4, 0.64), (85.3, 1.15), (85.5, 2.81), (85.15, 3.26), (84.4, 3.51), (84.05, 4.09), (83.85, 4.85), (83.3, 5.75), (82.95, 7)],
    [(84.3, 2.87), (84.75, 2.75), (85, 2.23), (84.3, 2.17), (84.3, 2.87)],
    [(74.85, 1.47), (74.05, 0.89), (74.75, 0.38), (75.4, 0.89), (74.85, 1.47)],
]

# each panel: data, then (left, right, top, bottom) of axes and (left, right) of colorbar in pixels
PANELS = [
    [(VLR_E1, VLR_E1_Y, VLR_E1_K, (221, 451, 100, 303), (464, 474)),
     (LR_E1, LR_E1_Y, LR_E1_K, (588, 809, 97, 281), (824, 834)),
     (ECHAM_E1, ECHAM_E1_Y, ECHAM_E1_K, (959, 1201, 100, 303), (1217, 1228))],
    [(VLR_E2, VLR_E2_Y, VLR_E2_K, (219, 443, 374, 562), (455, 465)),
     (LR_E2, LR_E2_Y, LR_E2_K, (589, 820, 374, 563), (834, 845)),
     (ECHAM_E2, ECHAM_E2_Y, ECHAM_E2_K, (974, 1194, 373, 556), (1207, 1218))],
    [(VLR_E3, VLR_E3_Y, VLR_E3_K, (220, 448, 634, 829), (462, 472)),
     (LR_E3, LR_E3_Y, LR_E3_K, (588, 809, 632, 816), (824, 834)),
     (ECHAM_E3, ECHAM_E3_Y, ECHAM_E3_K, (974, 1194, 632, 815), (1207, 1218))],
    [(VLR_E4, VLR_E4_Y, VLR_E4_K, (219, 441, 898, 1083), (454, 464)),
     (LR_E4, LR_E4_Y, LR_E4_K, (588, 809, 898, 1082), (824, 834)),
     (ECHAM_E4, ECHAM_E4_Y, ECHAM_E4_K, (974, 1194, 898, 1081), (1207, 1218))],
]
LON_SETS = [LON_VLR, LON_LR, LON_ECHAM]
ALT_SETS = [ALT_LMDZ, ALT_LMDZ, ALT_ECHAM]
DARK = "#3a3a3a"

plt.rcParams["text.color"] = DARK
plt.rcParams["axes.labelcolor"] = DARK
plt.rcParams["xtick.labelcolor"] = DARK
plt.rcParams["ytick.labelcolor"] = DARK
plt.rcParams["xtick.color"] = DARK
plt.rcParams["ytick.color"] = DARK
plt.rcParams["axes.edgecolor"] = "#666666"

fig = plt.figure(figsize=(W / 100, H / 100), dpi=100)


def rect(left, right, top, bottom):
    return [left / W, 1 - bottom / H, (right - left) / W, (bottom - top) / H]


def cell_edges(centres):
    centres = np.array(centres)
    d = np.diff(centres)[0]
    return np.append(centres - d / 2, centres[-1] + d / 2)


def draw_panel(values, yellow, black, box, cbar_x, lon, alt, title):
    ax = fig.add_axes(rect(*box))
    mesh = ax.pcolormesh(cell_edges(lon), alt, values, cmap="magma_r", vmin=-50, vmax=0,
                         shading="flat", antialiased=False)
    for line in yellow:
        x, y = zip(*line)
        ax.plot(x, y, color="#9a9480", lw=1.9, solid_capstyle="round")
        ax.plot(x, y, color="#ffff00", lw=1.2, ls=(0, (1.6, 2.2)))
    for line in black:
        x, y = zip(*line)
        ax.plot(x, y, color="black", lw=1.4)
        ax.plot(x, y, color="#10d0e0", lw=1.1, ls=(0, (1.1, 4)))
    ax.axvline(77.5, color="#555555", lw=1.7)
    ax.axvline(77.5, color="#222222", lw=0.6)
    ax.set_xlim(67.5, 91.5)
    ax.set_ylim(0, 7)
    ax.set_xticks([70, 75, 80, 85, 90])
    ax.set_yticks(range(8))
    ax.tick_params(labelsize=9.3, length=3, width=0.7, pad=2.5)
    ax.set_xlabel("longitude (°E)", fontsize=9.7, labelpad=0.5)
    ax.set_ylabel("Altitude (km)", fontsize=9.8, labelpad=1)
    ax.set_title(title, fontsize=9.4, pad=5.5)
    ax.annotate("AMS", xy=(77.1, 0), xycoords=("data", "axes fraction"), xytext=(0, -8),
                textcoords="offset points", ha="center", va="center", fontsize=7.3, fontweight="bold")
    cax = fig.add_axes(rect(cbar_x[0], cbar_x[1], box[2], box[3]))
    cb = fig.colorbar(mesh, cax=cax, extend="both", extendfrac=0.046)
    cb.set_ticks([0, -10, -20, -30, -40, -50])
    cb.ax.tick_params(labelsize=9.3, length=3, width=0.7, pad=2.5)
    cb.set_label(r"Water vapor $\delta^{18}$O (‰)", fontsize=9.9, labelpad=0.5)
    cb.outline.set_edgecolor("#666666")


# table behind the panels
table = fig.add_axes([0, 0, 1, 1], zorder=-1)
table.set_xlim(0, W)
table.set_ylim(H, 0)
table.axis("off")
for y in [7, 71, 348, 607, 873]:
    table.plot([6, 1292], [y, y], color="black", lw=1.2)
for x in [6, 186, 555, 923, 1291]:
    table.plot([x, x], [7, 1120], color="black", lw=1.2)
for x, txt in zip([91, 370, 738, 1107], HEADERS):
    table.text(x, 43, txt, family="Liberation Serif", fontsize=21, color="black", ha="center", va="center")
for y, txt in zip([94, 370, 629, 895], DATES):
    table.text(7, y, txt, family="Liberation Serif", fontsize=21, color="black", ha="left", va="center")

for r, row in enumerate(PANELS):
    for c, (values, yellow, black, box, cbar_x) in enumerate(row):
        draw_panel(values, yellow, black, box, cbar_x, LON_SETS[c], ALT_SETS[c], TITLES[r][c])

fig.savefig("out.png", dpi=100)
